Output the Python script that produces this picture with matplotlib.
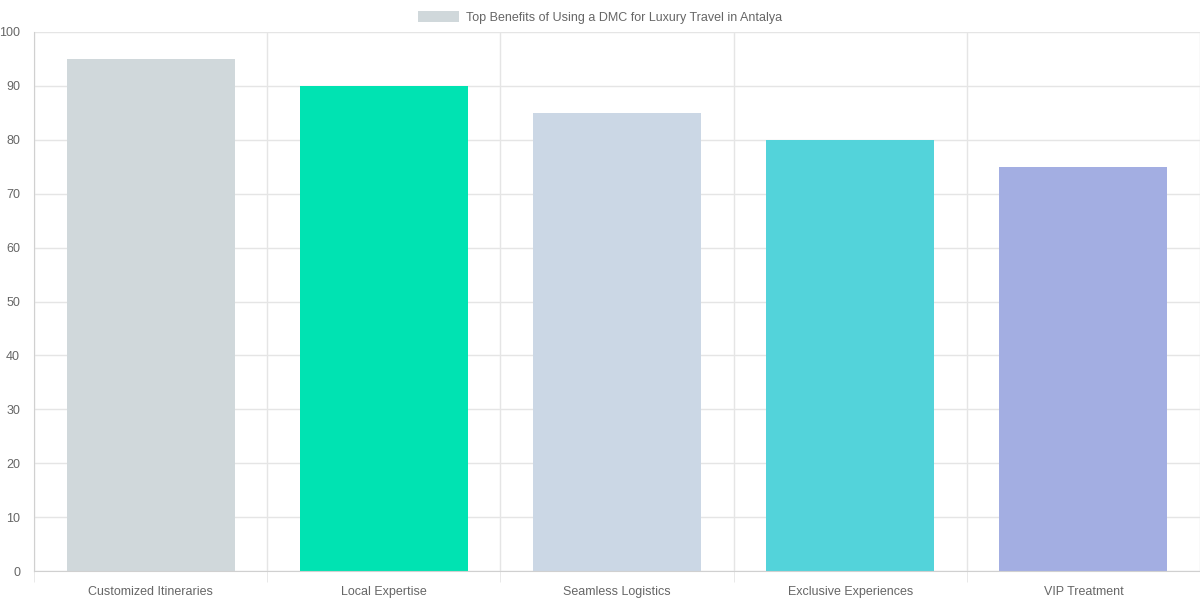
import matplotlib.pyplot as plt
from matplotlib.patches import Patch

categories = ['Customized Itineraries', 'Local Expertise', 'Seamless Logistics',
              'Exclusive Experiences', 'VIP Treatment']
values = [95, 90, 85, 80, 75]
colors = ['#d0d8db', '#00e3b2', '#cbd7e5', '#53d3da', '#a3aee2']
title = 'Top Benefits of Using a DMC for Luxury Travel in Antalya'

plt.rcParams['font.family'] = ['Liberation Sans', 'DejaVu Sans']
fig = plt.figure(figsize=(12, 6), dpi=100)
ax = fig.add_axes([34 / 1200, 29 / 600, 1166 / 1200, 539 / 600])

x = list(range(len(categories)))
ax.bar(x, values, width=0.72, color=colors, zorder=2)
ax.set_xlim(-0.5, len(categories) - 0.5)
ax.set_ylim(0, 100)
ax.set_yticks(range(0, 101, 10))
ax.set_xticks(x)
ax.set_xticklabels(categories)
ax.set_xticks([i + 0.5 for i in range(-1, len(categories))], minor=True)
ax.grid(False)
ax.grid(axis='y', color='#e5e5e5', linewidth=1, zorder=0)
ax.grid(axis='x', which='minor', color='#e5e5e5', linewidth=1, zorder=0)
ax.tick_params(axis='x', which='major', length=0, pad=11, labelsize=9, labelcolor='#666666')
ax.tick_params(axis='x', which='minor', length=8, color='#e5e5e5')
ax.tick_params(axis='y', length=0, pad=10, labelsize=9, labelcolor='#666666')
for s in ['top', 'right']:
    ax.spines[s].set_visible(False)
for s in ['left', 'bottom']:
    ax.spines[s].set_color('#d0d0d0')

fig.legend(handles=[Patch(facecolor=colors[0], label=title)], loc='upper center',
           bbox_to_anchor=(0.5, 1.0), frameon=False, fontsize=9, labelcolor='#666666',
           handlelength=3.3, handleheight=0.9, handletextpad=0.5)

fig.savefig('out.png', dpi=100)
